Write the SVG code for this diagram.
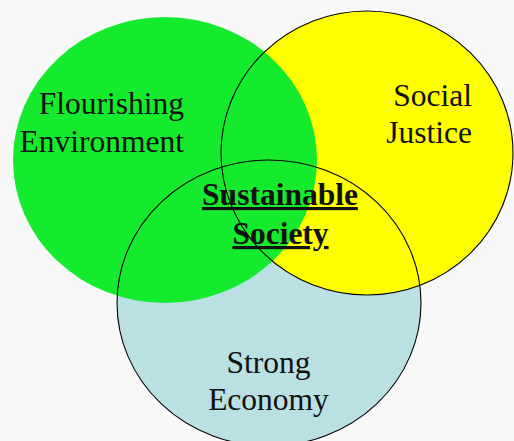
<svg xmlns="http://www.w3.org/2000/svg" width="514" height="441" viewBox="0 0 514 441">
<style>
.lbl{font-family:"Liberation Serif","Times New Roman",serif;font-size:31.5px;fill:#111}
.ctr{font-family:"Liberation Serif","Times New Roman",serif;font-size:31.5px;font-weight:bold;fill:#111;text-decoration:underline}
.ring{fill:none;stroke:#000;stroke-width:1.1}
</style>
<rect width="514" height="441" fill="#f8f8f8"/>
<g id="fills">
<ellipse cx="269" cy="303" rx="152" ry="143" fill="#bae0e3"/>
<ellipse cx="367" cy="153" rx="146" ry="142" fill="#ffff00"/>
<ellipse cx="165" cy="160" rx="152" ry="143" fill="#14eb2c"/>
</g>
<g id="outlines">
<ellipse class="ring" cx="367" cy="153" rx="146" ry="142"/>
<ellipse class="ring" cx="269" cy="303" rx="152" ry="143"/>
</g>
<g id="environment">
<text class="lbl" x="184" y="114" text-anchor="end">Flourishing</text>
<text class="lbl" x="184" y="152" text-anchor="end">Environment</text>
</g>
<g id="social">
<text class="lbl" x="472" y="106" text-anchor="end">Social</text>
<text class="lbl" x="472" y="143" text-anchor="end">Justice</text>
</g>
<g id="economy">
<text class="lbl" x="268.5" y="373" text-anchor="middle">Strong</text>
<text class="lbl" x="268.5" y="410" text-anchor="middle">Economy</text>
</g>
<g id="center">
<text class="ctr" x="280" y="205" text-anchor="middle">Sustainable</text>
<text class="ctr" x="280.5" y="244" text-anchor="middle">Society</text>
</g>
</svg>
